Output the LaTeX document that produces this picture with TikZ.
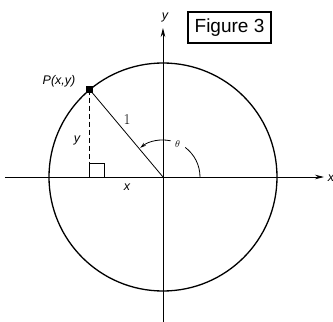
\documentclass[tikz,border=0pt]{standalone}
\usepackage{fontspec}
\newfontfamily\lab{Liberation Sans}
\usetikzlibrary{arrows.meta,calc}
\begin{document}
\begin{tikzpicture}[x=1pt,y=1pt,
  axis/.style={line width=0.8pt,-{Stealth[length=9pt,width=4.5pt]}},
  curve/.style={line width=1.3pt},
  lbl/.style={font=\lab\itshape\fontsize{12.5}{14}\selectfont,inner sep=0pt},
  thin/.style={line width=0.8pt}]
\useasboundingbox (-163,-145) rectangle (170,177);
\fill[white] (-163,-145) rectangle (170,177);
\coordinate (O) at (0,0);
\coordinate (P) at (130:114);
\coordinate (F) at (P |- O);
\coordinate (xs) at (-158,0);
\coordinate (xe) at (161,0);
\coordinate (ys) at (0,-146);
\coordinate (ye) at (0,149);
% circle
\draw[curve] (O) circle[radius=114];
% axes
\draw[axis] (xs) -- (xe);
\draw[axis] (ys) -- (ye);
\node[lbl] (xl) at (168,-1) {x};
\node[lbl] (yl) at (2,160) {y};
% radius and dashed
\draw[thin] (O) -- (P);
\draw[thin,dashed,dash pattern=on 5pt off 3pt] (P) -- (F);
\draw[thin] (F) rectangle ($(F)+(15,14)$);
\fill (P) ++(-3.5,-3.5) rectangle ++(7,7);
% theta arc
\draw[thin] (53:37) arc[start angle=53,end angle=0,radius=37];
\draw[thin,-{Stealth[length=6pt,width=3.5pt]}] (78:37) arc[start angle=78,end angle=128,radius=37];
\node[inner sep=0pt] (th) at (66:36) {\fontsize{10}{11}\selectfont$\theta$};
% labels
\node[lbl] (Pl) at (-104,96) {P(x,y)};
\node[lbl] (yd) at (-86,37) {y};
\node[lbl] (xd) at (-36,-10) {x};
\node[inner sep=0pt] (one) at (-36,57) {\fontsize{15}{17}\selectfont 1};
% figure box
\node[draw,line width=1.1pt,minimum width=83pt,minimum height=31pt,inner sep=0pt,font=\lab\fontsize{19}{21}\selectfont] (fig) at (66.5,149.5) {Figure 3};
\end{tikzpicture}
\end{document}
